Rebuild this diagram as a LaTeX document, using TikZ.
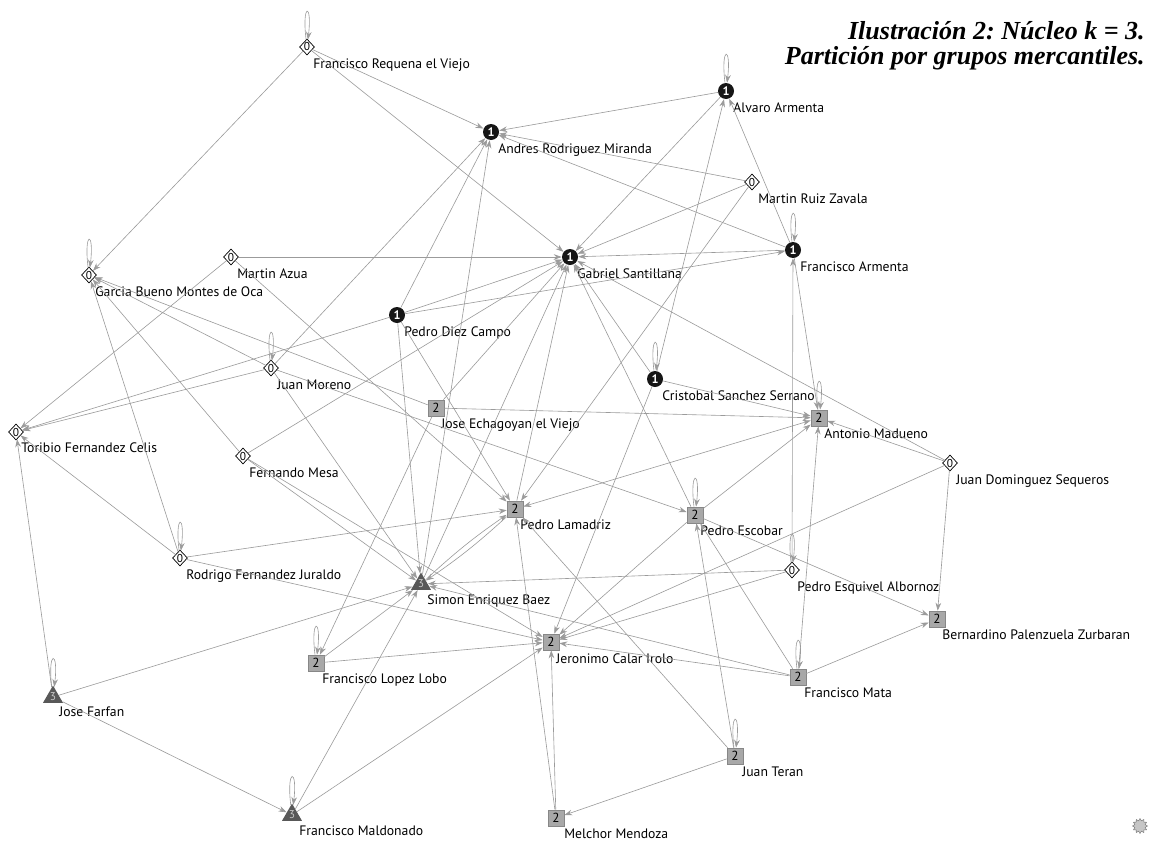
\documentclass[tikz,border=0pt]{standalone}
\usepackage{fontspec}
\usepackage{tikz}
\usetikzlibrary{shapes.geometric, arrows.meta, positioning}
\setmainfont{PT Sans}
\newfontfamily\titlefont{Liberation Serif}
\frenchspacing
\definecolor{netedge}{RGB}{155,155,155}
\definecolor{netsq}{RGB}{168,168,168}
\definecolor{netsqline}{RGB}{135,135,135}
\definecolor{nettri}{RGB}{88,88,88}
\definecolor{netdot}{RGB}{22,22,22}
\tikzset{
  %% ---- markers (k-core) ----
  kzero/.style  = {diamond, draw=black, line width=0.4pt, fill=white,
                   minimum width=0.3cm, minimum height=0.32cm, inner sep=0pt,
                   font=\fontsize{6.5}{6.5}\selectfont},
  kone/.style   = {circle, fill=netdot, text=white, minimum size=0.32cm,
                   inner sep=0pt, font=\bfseries\fontsize{7}{7}\selectfont},
  ktwo/.style   = {rectangle, draw=netsqline, line width=0.4pt, fill=netsq,
                   minimum size=0.32cm, inner sep=0pt,
                   font=\fontsize{7.5}{7.5}\selectfont},
  kthree/.style = {regular polygon, regular polygon sides=3, fill=nettri,
                   text=gray!45, minimum size=0.46cm, inner sep=0pt,
                   font=\fontsize{6.5}{6.5}\selectfont},
  lbl/.style    = {inner sep=0pt, font=\fontsize{7.8}{9}\selectfont},
  %% ---- ties ----
  tie/.style      = {-{Stealth[length=4.5pt,width=3.2pt]}, draw=netedge,
                     line width=0.35pt},
  bitie/.style    = {tie, {Stealth[length=4.5pt,width=3.2pt]}-{Stealth[length=4.5pt,width=3.2pt]}},
  selfloop/.style = {tie, loop, out=97, in=83, min distance=0.75cm},
}
\begin{document}
\begin{tikzpicture}[x=0.02cm, y=-0.02cm,
  title/.style = {align=right, inner sep=0pt,
                  font=\titlefont\bfseries\itshape\fontsize{14.8}{14.4}\selectfont}
]
\useasboundingbox (0,0) rectangle (1149,842);
%% title
\node[title, anchor=north east] (ttl) at (1145,21)
  {Ilustración 2: Núcleo k = 3.\\Partición por grupos mercantiles.};

%% k = 0
\node[kzero] (frv) at (307,47)  {0};
\node[kzero] (mrz) at (752,182) {0};
\node[kzero] (gbm) at (89,275)  {0};
\node[kzero] (ma)  at (231,257) {0};
\node[kzero] (jm)  at (271,368) {0};
\node[kzero] (jds) at (950,463) {0};
\node[kzero] (tfc) at (16,432)  {0};
\node[kzero] (fm)  at (243,456) {0};
\node[kzero] (rfj) at (180,558) {0};
\node[kzero] (pea) at (792,570) {0};
%% k = 1
\node[kone] (arm) at (491,132) {1};
\node[kone] (aa)  at (726,91)  {1};
\node[kone] (gs)  at (570,257) {1};
\node[kone] (fa)  at (793,250) {1};
\node[kone] (pdc) at (397,315) {1};
\node[kone] (css) at (655,379) {1};
%% k = 2
\node[ktwo] (jev) at (436,408) {2};
\node[ktwo] (am)  at (819,418) {2};
\node[ktwo] (pl)  at (515,509) {2};
\node[ktwo] (pe)  at (695,515) {2};
\node[ktwo] (bpz) at (937,619) {2};
\node[ktwo] (jci) at (551,642) {2};
\node[ktwo] (fll) at (316,663) {2};
\node[ktwo] (fma) at (798,677) {2};
\node[ktwo] (jt)  at (735,756) {2};
\node[ktwo] (mm)  at (556,818) {2};
%% k = 3
\node[kthree] (seb) at (421,584) {3};
\node[kthree] (jf)  at (53,697)  {3};
\node[kthree] (fmd) at (292,815) {3};

%% names
\node[lbl, below right=0.23cm and 0.12cm of frv.center] (frv-l) {Francisco Requena el Viejo};
\node[lbl, below right=0.23cm and 0.14cm of arm.center] (arm-l) {Andres Rodriguez Miranda};
\node[lbl, below right=0.23cm and 0.14cm of aa.center]  (aa-l)  {Alvaro Armenta};
\node[lbl, below right=0.23cm and 0.12cm of mrz.center] (mrz-l) {Martin Ruiz Zavala};
\node[lbl, below right=0.23cm and 0.14cm of gs.center]  (gs-l)  {Gabriel Santillana};
\node[lbl, below right=0.23cm and 0.14cm of fa.center]  (fa-l)  {Francisco Armenta};
\node[lbl, below right=0.23cm and 0.12cm of gbm.center] (gbm-l) {Garcia Bueno Montes de Oca};
\node[lbl, below right=0.23cm and 0.12cm of ma.center]  (ma-l)  {Martin Azua};
\node[lbl, below right=0.23cm and 0.14cm of pdc.center] (pdc-l) {Pedro Diez Campo};
\node[lbl, below right=0.23cm and 0.12cm of jm.center]  (jm-l)  {Juan Moreno};
\node[lbl, below right=0.21cm and 0.10cm of jev.center] (jev-l) {Jose Echagoyan el Viejo};
\node[lbl, below right=0.23cm and 0.14cm of css.center] (css-l) {Cristobal Sanchez Serrano};
\node[lbl, below right=0.21cm and 0.10cm of am.center]  (am-l)  {Antonio Madueno};
\node[lbl, below right=0.23cm and 0.12cm of jds.center] (jds-l) {Juan Dominguez Sequeros};
\node[lbl, below right=0.21cm and 0.10cm of tfc.center] (tfc-l) {Toribio Fernandez Celis};
\node[lbl, below right=0.23cm and 0.12cm of fm.center]  (fm-l)  {Fernando Mesa};
\node[lbl, below right=0.21cm and 0.10cm of pl.center]  (pl-l)  {Pedro Lamadriz};
\node[lbl, below right=0.21cm and 0.10cm of pe.center]  (pe-l)  {Pedro Escobar};
\node[lbl, below right=0.23cm and 0.12cm of rfj.center] (rfj-l) {Rodrigo Fernandez Juraldo};
\node[lbl, below right=0.21cm and 0.12cm of seb.center] (seb-l) {Simon Enriquez Baez};
\node[lbl, below right=0.23cm and 0.10cm of pea.center] (pea-l) {Pedro Esquivel Albornoz};
\node[lbl, below right=0.21cm and 0.10cm of bpz.center] (bpz-l) {Bernardino Palenzuela Zurbaran};
\node[lbl, below right=0.23cm and 0.10cm of jci.center] (jci-l) {Jeronimo Calar Irolo};
\node[lbl, below right=0.21cm and 0.12cm of fll.center] (fll-l) {Francisco Lopez Lobo};
\node[lbl, below right=0.21cm and 0.12cm of fma.center] (fma-l) {Francisco Mata};
\node[lbl, below right=0.19cm and 0.12cm of jf.center]  (jf-l)  {Jose Farfan};
\node[lbl, below right=0.21cm and 0.14cm of jt.center]  (jt-l)  {Juan Teran};
\node[lbl, below right=0.21cm and 0.14cm of fmd.center] (fmd-l) {Francisco Maldonado};
\node[lbl, below right=0.21cm and 0.16cm of mm.center]  (mm-l)  {Melchor Mendoza};

%% logo
\node[star, star points=12, star point ratio=1.4, fill=gray!45, draw=gray,
      line width=0.3pt, minimum size=0.3cm, inner sep=0pt] (logo) at (1140,826) {};

%% self ties
\foreach \n in {frv,aa,gbm,fa,jm,css,am,pe,rfj,pea,fll,fma,jf,jt,fmd}
  \draw[selfloop] (\n) to (\n);

%% ties
\draw[tie] (frv) -- (arm);
\draw[tie] (frv) -- (gbm);
\draw[tie] (frv) -- (gs);
\draw[tie] (aa)  -- (arm);
\draw[tie] (mrz) -- (arm);
\draw[tie] (fa)  -- (arm);
\draw[tie] (mrz) -- (gs);
\draw[tie] (mrz) -- (pl);
\draw[tie] (css) -- (aa);
\draw[tie] (fa)  -- (aa);
\draw[tie] (aa)  -- (gs);
\draw[tie] (fa)  -- (gs);
\draw[tie] (pdc) -- (fa);
\draw[tie] (ma)  -- (gs);
\draw[tie] (pdc) -- (gs);
\draw[tie] (jev) -- (gs);
\draw[tie] (fm)  -- (gs);
\draw[tie] (css) -- (gs);
\draw[tie] (jds) -- (gs);
\draw[tie] (pe)  -- (gs);
\draw[tie] (pl)  -- (gs);
\draw[tie] (seb) -- (gs);
\draw[tie] (seb) -- (arm);
\draw[tie] (jm)  -- (arm);
\draw[tie] (pdc) -- (arm);
\draw[tie] (jm)  -- (gbm);
\draw[tie] (jev) -- (gbm);
\draw[tie] (rfj) -- (gbm);
\draw[tie] (fm)  -- (gbm);
\draw[tie] (ma)  -- (tfc);
\draw[tie] (jm)  -- (tfc);
\draw[tie] (pdc) -- (tfc);
\draw[tie] (rfj) -- (tfc);
\draw[tie] (jf)  -- (tfc);
\draw[tie] (ma)  -- (pl);
\draw[tie] (jm)  -- (seb);
\draw[tie] (jm)  -- (pe);
\draw[tie] (fm)  -- (seb);
\draw[tie] (fm)  -- (jci);
\draw[tie] (rfj) -- (pl);
\draw[tie] (rfj) -- (jci);
\draw[tie] (pea) -- (seb);
\draw[tie] (fll) -- (seb);
\draw[tie] (jf)  -- (seb);
\draw[tie] (fmd) -- (seb);
\draw[tie] (pl)  to[bend left=4] (seb);
\draw[tie] (seb) to[bend left=4] (pl);
\draw[tie] (pdc) -- (seb);
\draw[tie] (fma) -- (seb);
\draw[tie] (fll) -- (jci);
\draw[tie] (jev) -- (fll);
\draw[tie] (jf)  -- (fmd);
\draw[tie] (fmd) -- (jci);
\draw[tie] (mm)  -- (jci);
\draw[tie] (mm)  -- (pl);
\draw[tie] (jt)  -- (mm);
\draw[tie] (jt)  -- (pl);
\draw[tie] (jt)  -- (pe);
\draw[tie] (fma) -- (pe);
\draw[tie] (css) -- (am);
\draw[tie] (css) -- (jci);
\draw[tie] (jev) -- (am);
\draw[bitie] (pl) -- (am);
\draw[tie] (pe)  -- (am);
\draw[tie] (jds) -- (am);
\draw[tie] (fma) -- (am);
\draw[tie] (fa)  -- (am);
\draw[tie] (pea) -- (fa);
\draw[tie] (pea) -- (jci);
\draw[tie] (jds) -- (bpz);
\draw[tie] (jds) -- (jci);
\draw[tie] (pe)  -- (jci);
\draw[tie] (pe)  -- (bpz);
\draw[tie] (fma) -- (jci);
\draw[tie] (fma) -- (bpz);
\draw[tie] (pdc) -- (pl);
\end{tikzpicture}
\end{document}
